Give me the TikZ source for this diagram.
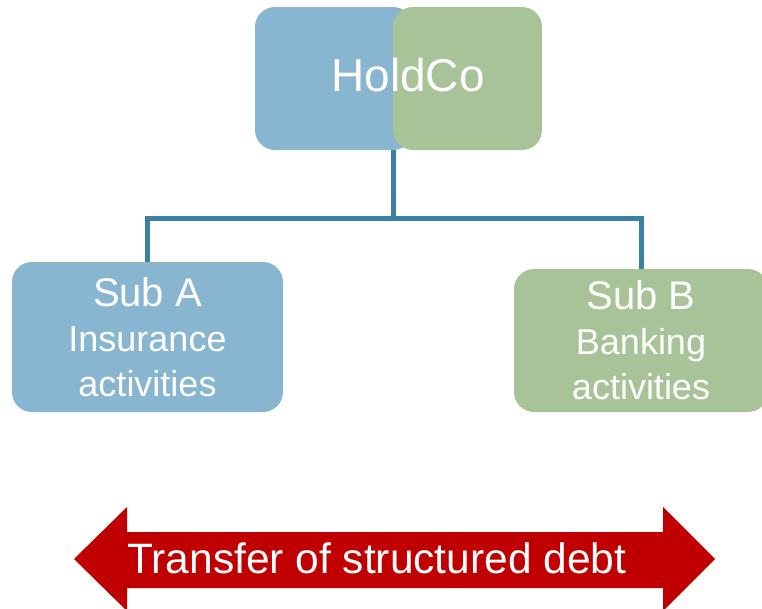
\documentclass[tikz,border=0pt]{standalone}
\usepackage{fontspec}
\setmainfont{Liberation Sans}
\definecolor{boxblue}{RGB}{136,181,208}
\definecolor{boxgreen}{RGB}{168,195,151}
\definecolor{linkblue}{RGB}{60,127,166}
\definecolor{debtred}{RGB}{192,0,0}
\tikzset{
  box/.style={rounded corners=20pt, inner sep=0pt, text=white, align=center},
  link/.style={draw=linkblue, line width=5pt}
}
\begin{document}
\begin{tikzpicture}[x=1pt,y=-1pt]
\useasboundingbox (0,0) rectangle (762,608);
% holding and subsidiaries
\node [box, fill=boxblue, minimum width=158pt, minimum height=143pt] (hcblue) at (334,78.5) {};
\node [box, fill=boxgreen, minimum width=149pt, minimum height=143pt] (hcgreen) at (467.5,78.5) {};
\node [text=white, font=\fontsize{46}{50}\selectfont] (holdco) at (408,75) {HoldCo};
\node [box, fill=boxblue, minimum width=271pt, minimum height=150pt, font=\fontsize{36}{45}\selectfont] (suba) at (147.5,337)
  {{\fontsize{40}{45}\selectfont Sub A}\\Insurance\\activities};
\node [box, fill=boxgreen, minimum width=254pt, minimum height=143pt, font=\fontsize{36}{45}\selectfont] (subb) at (641,340.5)
  {{\fontsize{40}{45}\selectfont Sub B}\\Banking\\activities};
\coordinate (junction) at ([xshift=1pt]hcgreen.south west);
\draw [link] (junction) -- ++(0,68) -| (suba.north);
\draw [link] (junction) -- ++(0,68) -| (subb.north);
% transfer arrow
\fill [debtred] (74,559) -- (127,507) -- (127,532) -- (663,532) -- (663,507) -- (715,559)
  -- (663,611) -- (663,588) -- (127,588) -- (127,611) -- cycle;
\node [anchor=base west, inner sep=0pt, text=white, font=\fontsize{42.5}{46}\selectfont] (debt) at (127,573) {Transfer of structured debt};
\end{tikzpicture}
\end{document}
